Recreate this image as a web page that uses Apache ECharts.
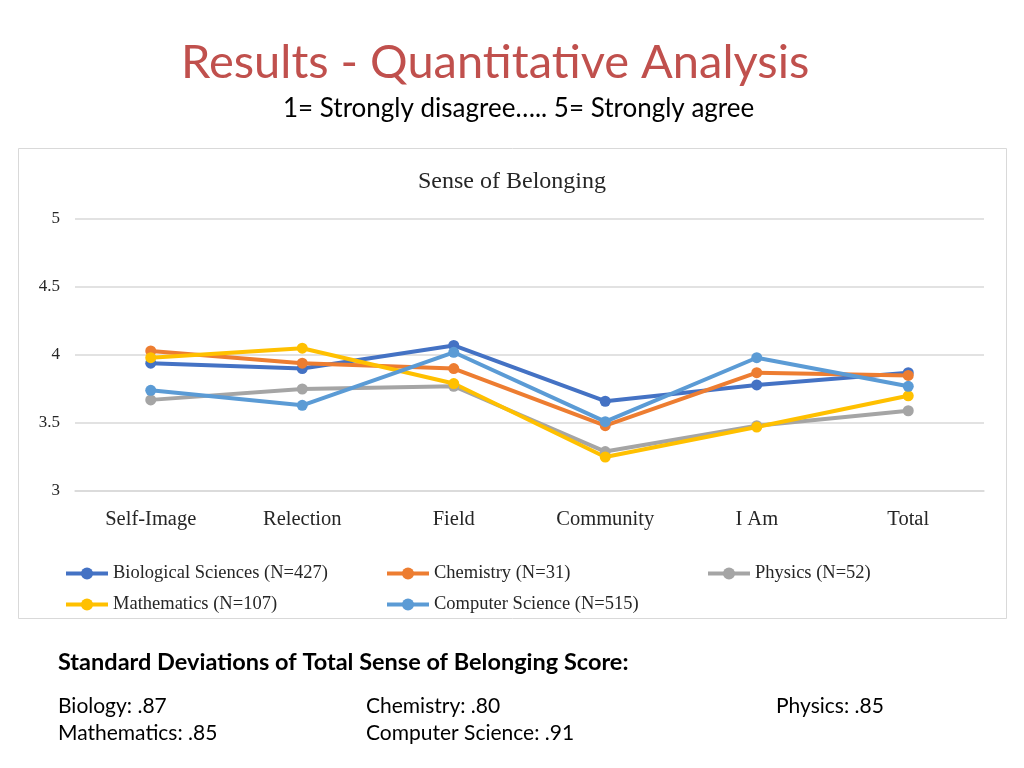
<!DOCTYPE html>
<html>
<head>
<meta charset="utf-8">
<script src="https://cdn.jsdelivr.net/npm/echarts@6/dist/echarts.min.js"></script>
<style>
html,body{margin:0;padding:0;background:#fff;}
#c{width:1024px;height:768px;}
</style>
</head>
<body>
<div id="c"></div>
<script>
const categories = ['Self-Image', 'Relection', 'Field', 'Community', 'I Am', 'Total'];
const seriesNames = ['Biological Sciences (N=427)', 'Chemistry (N=31)', 'Physics (N=52)', 'Mathematics (N=107)', 'Computer Science (N=515)'];
const biology = [3.94, 3.90, 4.07, 3.66, 3.78, 3.87];
const chemistry = [4.03, 3.94, 3.90, 3.48, 3.87, 3.85];
const physics = [3.67, 3.75, 3.77, 3.29, 3.48, 3.59];
const mathematics = [3.98, 4.05, 3.79, 3.25, 3.47, 3.70];
const compsci = [3.74, 3.63, 4.02, 3.51, 3.98, 3.77];
const colors = ['#4472C4', '#ED7D31', '#A5A5A5', '#FFC000', '#5B9BD5'];
const allValues = [biology, chemistry, physics, mathematics, compsci];

const chart = echarts.init(document.getElementById('c'));
const serif = '"Liberation Serif", "Times New Roman", serif';
const sans = 'Lato, "Open Sans", sans-serif';
const txt = '#262626';

const legendPos = [[64, 564], [385, 564], [706, 564], [64, 595], [385, 595]];

chart.setOption({
  animation: false,
  backgroundColor: '#fff',
  title: {
    text: 'Sense of Belonging',
    left: 'center',
    top: 165,
    textStyle: { fontFamily: serif, fontSize: 24, fontWeight: 'normal', color: txt }
  },
  legend: legendPos.map((p, i) => ({
    data: [seriesNames[i]],
    left: p[0],
    top: p[1],
    padding: 0,
    itemWidth: 42,
    itemHeight: 15,
    lineStyle: { width: 4 },
    textStyle: { fontFamily: serif, fontSize: 18.5, color: txt }
  })),
  grid: { left: 75, right: 40, top: 219, bottom: 277, containLabel: false },
  xAxis: {
    type: 'category',
    data: categories,
    boundaryGap: true,
    axisLine: { lineStyle: { color: '#d9d9d9', width: 1.5 } },
    axisTick: { show: false },
    axisLabel: { fontFamily: serif, fontSize: 20.5, color: txt, margin: 18 }
  },
  yAxis: {
    type: 'value',
    min: 3, max: 5, interval: 0.5,
    axisLine: { show: false },
    axisTick: { show: false },
    splitLine: { lineStyle: { color: '#d9d9d9', width: 1.5 } },
    axisLabel: { fontFamily: serif, fontSize: 17, color: txt, margin: 15 }
  },
  series: seriesNames.map((n, i) => ({
    name: n,
    type: 'line',
    data: allValues[i],
    symbol: 'circle',
    symbolSize: 11,
    lineStyle: { width: 4, color: colors[i] },
    itemStyle: { color: colors[i] }
  })),
  graphic: [
    { type: 'rect', shape: { x: 18.5, y: 148.5, width: 988, height: 470 }, style: { fill: 'none', stroke: '#d9d9d9', lineWidth: 1 }, z: -1 },
    { type: 'text', left: 181, top: 39, style: { text: 'Results - Quantitative Analysis', font: '47px ' + sans, fill: '#C0504D' } },
    { type: 'text', left: 283, top: 96, style: { text: '1= Strongly disagree….. 5= Strongly agree', font: '26px ' + sans, fill: '#000' } },
    { type: 'text', left: 58, top: 650, style: { text: 'Standard Deviations of Total Sense of Belonging Score:', font: 'bold 23.5px ' + sans, fill: '#000' } },
    { type: 'text', left: 58, top: 696, style: { text: 'Biology: .87', font: '21px ' + sans, fill: '#000' } },
    { type: 'text', left: 366, top: 696, style: { text: 'Chemistry: .80', font: '21px ' + sans, fill: '#000' } },
    { type: 'text', left: 776, top: 696, style: { text: 'Physics: .85', font: '21px ' + sans, fill: '#000' } },
    { type: 'text', left: 58, top: 723, style: { text: 'Mathematics: .85', font: '21px ' + sans, fill: '#000' } },
    { type: 'text', left: 366, top: 723, style: { text: 'Computer Science: .91', font: '21px ' + sans, fill: '#000' } }
  ]
});
</script>
</body>
</html>
